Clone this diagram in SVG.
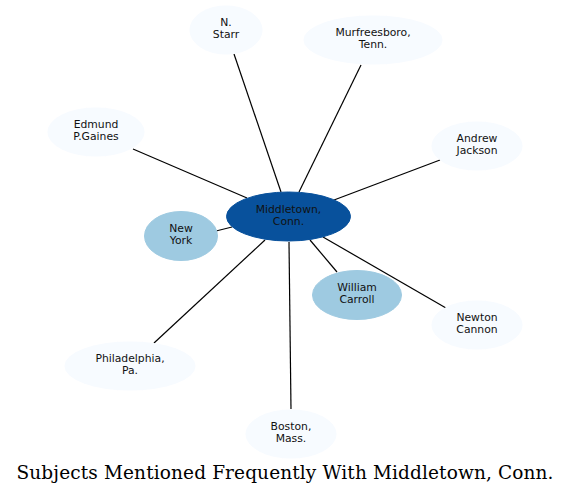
<svg xmlns="http://www.w3.org/2000/svg" width="571" height="495" viewBox="0 0 571 495">
<style>
.edge{stroke:#000;stroke-width:1.2;fill:none}
.pale{fill:#f7fbff;stroke:#f7fbff}
.mid{fill:#9ecae1;stroke:#9ecae1}
.dark{fill:#08519c;stroke:#08519c}
text{font-family:"DejaVu Sans",sans-serif;font-size:10.8px;fill:#111;text-anchor:middle}
.title{font-family:"DejaVu Serif",serif;font-size:18.5px;fill:#000}
</style>
<rect width="571" height="495" fill="#fff"/>
<g id="edges">
<line class="edge" x1="234" y1="54" x2="281" y2="192"/>
<line class="edge" x1="361" y1="65" x2="299" y2="192"/>
<line class="edge" x1="133" y1="149" x2="247" y2="198"/>
<line class="edge" x1="440" y1="160" x2="334" y2="200"/>
<line class="edge" x1="216" y1="231" x2="232" y2="227"/>
<line class="edge" x1="310" y1="240" x2="337" y2="272"/>
<line class="edge" x1="446" y1="308" x2="323" y2="237"/>
<line class="edge" x1="154" y1="343" x2="265" y2="240"/>
<line class="edge" x1="291" y1="409" x2="289" y2="242"/>
</g>
<g id="node-nstarr"><ellipse class="pale" cx="226" cy="30" rx="36" ry="24"/><text x="226" y="26">N.</text><text x="226" y="38">Starr</text></g>
<g id="node-murfreesboro"><ellipse class="pale" cx="373" cy="40" rx="69" ry="24"/><text x="373" y="36">Murfreesboro,</text><text x="373" y="48">Tenn.</text></g>
<g id="node-gaines"><ellipse class="pale" cx="96" cy="132" rx="48" ry="24"/><text x="96" y="128">Edmund</text><text x="96" y="140">P.Gaines</text></g>
<g id="node-jackson"><ellipse class="pale" cx="477" cy="146" rx="45" ry="24"/><text x="477" y="142">Andrew</text><text x="477" y="154">Jackson</text></g>
<g id="node-middletown"><ellipse class="dark" cx="288.5" cy="216.5" rx="62" ry="24.5"/><text x="288.5" y="213">Middletown,</text><text x="288.5" y="225">Conn.</text></g>
<g id="node-newyork"><ellipse class="mid" cx="181" cy="236" rx="36.5" ry="24.5"/><text x="181" y="232">New</text><text x="181" y="244">York</text></g>
<g id="node-carroll"><ellipse class="mid" cx="357" cy="295" rx="44.5" ry="24.5"/><text x="357" y="291">William</text><text x="357" y="303">Carroll</text></g>
<g id="node-cannon"><ellipse class="pale" cx="477" cy="325" rx="45" ry="24"/><text x="477" y="321">Newton</text><text x="477" y="333">Cannon</text></g>
<g id="node-philadelphia"><ellipse class="pale" cx="130" cy="366" rx="65" ry="24"/><text x="130" y="362">Philadelphia,</text><text x="130" y="374">Pa.</text></g>
<g id="node-boston"><ellipse class="pale" cx="291" cy="434" rx="45" ry="24"/><text x="291" y="430">Boston,</text><text x="291" y="442">Mass.</text></g>
<text class="title" x="285" y="479" textLength="537" lengthAdjust="spacing">Subjects Mentioned Frequently With Middletown, Conn.</text>
</svg>
